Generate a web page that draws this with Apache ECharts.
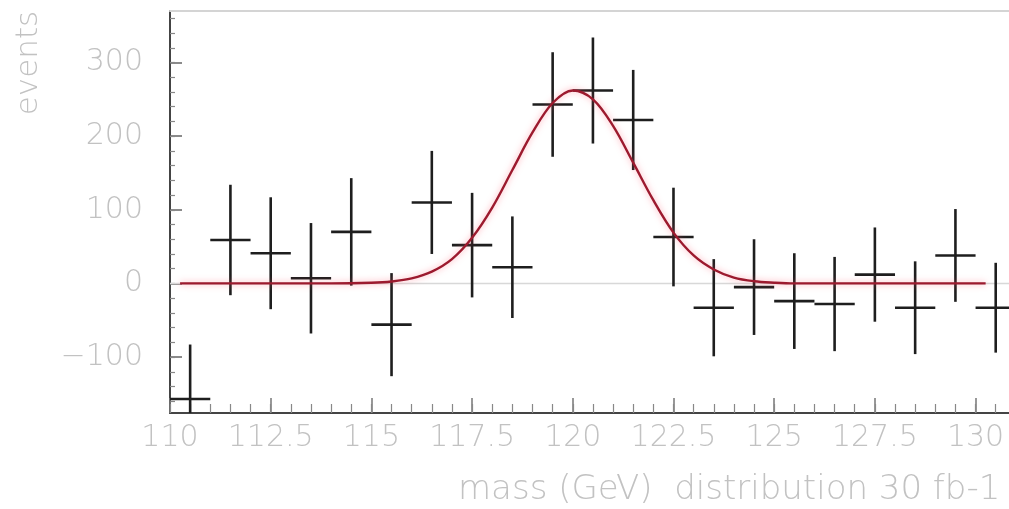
<!DOCTYPE html>
<html>
<head>
<meta charset="utf-8">
<script src="https://cdn.jsdelivr.net/npm/echarts@6/dist/echarts.min.js"></script>
<style>
html,body{margin:0;padding:0;background:#fff;}
#chart{width:1009px;height:509px;}
</style>
</head>
<body>
<div id="chart"></div>
<script>
// ---- data ----
const binCenters = [110.5,111.5,112.5,113.5,114.5,115.5,116.5,117.5,118.5,119.5,120.5,121.5,122.5,123.5,124.5,125.5,126.5,127.5,128.5,129.5,130.5];
const eventValues = [-157,59,41,7,70,-56,110,52,22,243,262,222,63,-33,-5,-24,-28,12,-33,38,-33];
const eventErrors = [74,75,76,75,73,70,70,71,69,71,72,68,67,66,65,65,64,64,63,63,61];
const fitX = [110.25,111,112,113,114,115,115.5,116,116.5,117,117.5,118,118.5,119,119.5,120,120.5,121,121.5,122,122.5,123,123.5,124,124.5,125,125.5,126,127,128,129,130.25];
const fitY = [0,0,0,0,0,0.9,2.6,6.8,16,33,62,103,154,205,245,262,250,214,164,113,69,38,19,8,3,1,0,0,0,0,0,0];
const xTickLabels = [110,112.5,115,117.5,120,122.5,125,127.5,130];
const yTickLabels = [-100,0,100,200,300];
const xTitle = 'mass (GeV)  distribution 30 fb-1';
const yTitle = 'events';

// minor tick positions
const xMinor = [];
for (let v = 110; v <= 131.001; v += 0.5) xMinor.push(+v.toFixed(2));
const yMinor = [];
for (let v = -160; v <= 360; v += 20) yMinor.push(v);

const labelColor = '#c2c2c2';
const font = 'DejaVu Sans';

const chart = echarts.init(document.getElementById('chart'), null, {renderer: 'canvas'});

const xMin = 110, xMax = 130.83, yMin = -176, yMax = 370;

const errData = binCenters.map((x, i) => [x, eventValues[i], eventErrors[i]]);
const fitData = fitX.map((x, i) => [x, fitY[i]]);

chart.setOption({
  animation: false,
  backgroundColor: '#fff',
  grid: {
    left: 170, right: 0, top: 11, bottom: 96,
    show: false
  },
  xAxis: [
    {
      type: 'value', min: xMin, max: xMax, position: 'bottom',
      axisLine: {show: true, onZero: false, lineStyle: {color: '#444', width: 2}},
      axisTick: {show: true, inside: true, length: 15, customValues: xTickLabels, lineStyle: {color: '#777', width: 1.5}},
      axisLabel: {show: true, customValues: xTickLabels, margin: 10, color: labelColor, fontSize: 30, fontFamily: font, fontWeight: 'lighter',
        formatter: v => String(v)},
      splitLine: {show: false}
    },
    {
      type: 'value', min: xMin, max: xMax, position: 'bottom', offset: 0,
      axisLine: {show: false, onZero: false},
      axisTick: {show: true, inside: true, length: 9, customValues: xMinor, lineStyle: {color: '#888', width: 1.2}},
      axisLabel: {show: false},
      splitLine: {show: false}
    },
    {
      type: 'value', min: xMin, max: xMax, position: 'top', offset: 0,
      axisLine: {show: true, onZero: false, lineStyle: {color: '#d4d4d4', width: 2}},
      axisTick: {show: false},
      axisLabel: {show: false},
      splitLine: {show: false}
    }
  ],
  yAxis: [
    {
      type: 'value', min: yMin, max: yMax, position: 'left',
      axisLine: {show: true, onZero: false, lineStyle: {color: '#444', width: 2}},
      axisTick: {show: true, inside: true, length: 12, customValues: yTickLabels, lineStyle: {color: '#666', width: 1.5}},
      axisLabel: {show: true, customValues: yTickLabels, margin: 27, color: labelColor, fontSize: 30, fontFamily: font, fontWeight: 'lighter',
        formatter: v => String(v).replace('-', '\u2212')},
      splitLine: {show: false}
    },
    {
      type: 'value', min: yMin, max: yMax, position: 'left', offset: 0,
      axisLine: {show: false, onZero: false},
      axisTick: {show: true, inside: true, length: 5, customValues: yMinor, lineStyle: {color: '#888', width: 1.2}},
      axisLabel: {show: false},
      splitLine: {show: false}
    }
  ],
  series: [
    {
      type: 'line', xAxisIndex: 0, yAxisIndex: 0, z: 1,
      data: [[xMin, 0], [xMax, 0]],
      showSymbol: false, symbol: 'none', silent: true,
      lineStyle: {color: '#d8d8d8', width: 1.5}
    },
    {
      type: 'custom', xAxisIndex: 0, yAxisIndex: 0, z: 3, clip: true,
      data: errData,
      renderItem: function (params, api) {
        const x = api.value(0), y = api.value(1), e = api.value(2);
        const c = api.coord([x, y]);
        const top = api.coord([x, y + e]);
        const bot = api.coord([x, y - e]);
        const l = api.coord([x - 0.5, y]);
        const r = api.coord([x + 0.5, y]);
        const st = {stroke: '#1e1e1e', lineWidth: 2.6};
        return {
          type: 'group',
          children: [
            {type: 'line', shape: {x1: c[0], y1: top[1], x2: c[0], y2: bot[1]}, style: st},
            {type: 'line', shape: {x1: l[0], y1: c[1], x2: r[0], y2: c[1]}, style: st}
          ]
        };
      }
    },
    {
      type: 'line', xAxisIndex: 0, yAxisIndex: 0, z: 4,
      data: fitData, smooth: 0.35, showSymbol: false, symbol: 'none', silent: true,
      lineStyle: {color: '#9c1a2e', width: 2.4, shadowColor: 'rgba(255,90,110,0.55)', shadowBlur: 6}
    }
  ],
  graphic: [
    {
      type: 'text', x: 29, y: 63, rotation: Math.PI / 2,
      style: {text: yTitle, fill: labelColor, font: 'lighter 31px "DejaVu Sans"', align: 'center', verticalAlign: 'middle'}
    },
    {
      type: 'text', x: 458, y: 490,
      style: {text: xTitle, fill: labelColor, font: 'lighter 34px "DejaVu Sans"', align: 'left', verticalAlign: 'middle'}
    }
  ]
});
</script>
</body>
</html>
